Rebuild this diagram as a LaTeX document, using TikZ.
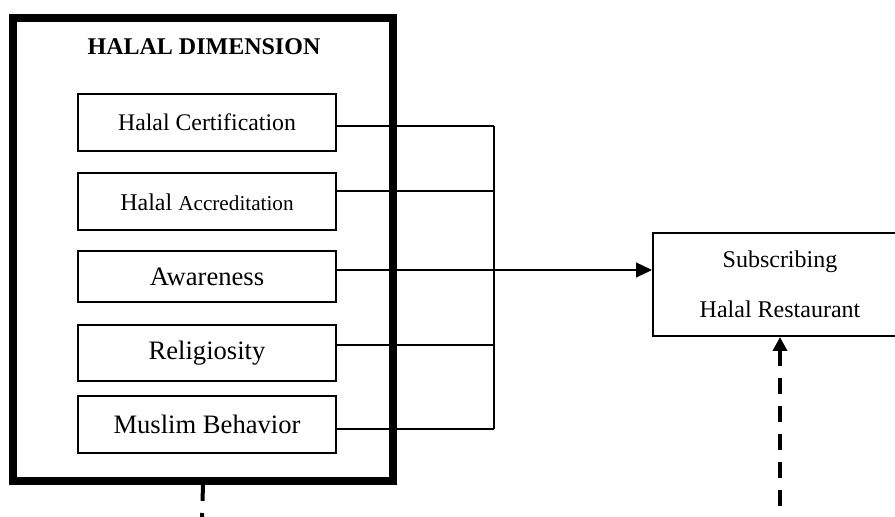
\documentclass[tikz,border=0pt]{standalone}
\usepackage{fontspec}
\setmainfont{Liberation Serif}
\usetikzlibrary{arrows.meta,positioning}

\begin{document}
\begin{tikzpicture}[x=0.5bp,y=-0.5bp,dimbox/.style={draw,line width=1bp,minimum width=129bp,minimum height=28.5bp,inner sep=0pt,font=\fontsize{13.3bp}{16bp}\selectfont},link/.style={line width=0.6bp},dashline/.style={line width=2bp,dash pattern=on 8bp off 6bp}]
                                \useasboundingbox (0,0) rectangle (895,517);
                                \clip (0,0) rectangle (895,517);
                                \node[draw,line width=4bp,minimum width=190bp,minimum height=231.5bp] (dim) at (203,249.5) {};
                                \node[font=\bfseries\fontsize{12bp}{14bp}\selectfont] (t1) at (204,47) {HALAL DIMENSION};

                                \node[dimbox,font=\fontsize{11.9bp}{14bp}\selectfont] (d1) at (207,122.5) {Halal Certification};
                                \node[dimbox,font=\fontsize{12bp}{14bp}\selectfont] (d2) at (207,202) {Halal {\fontsize{10.6bp}{14bp}\selectfont Accreditation}};
                                \node[dimbox,minimum height=25.5bp] (d3) at (207,276.5) {Awareness};
                                \node[dimbox,minimum height=28bp] (d4) at (207,353) {Religiosity};
                                \node[dimbox] (d5) at (207,424.5) {Muslim Behavior};

                                \node[draw,line width=1bp,minimum width=127bp,minimum height=51.5bp,align=center,font=\fontsize{12bp}{25bp}\selectfont] (s1) at (780,284.5) {Subscribing\\Halal Restaurant};

                                \coordinate (j1) at (494,126);
                                \coordinate (j2) at (494,191);
                                \coordinate (j3) at (494,270);
                                \coordinate (j4) at (494,345);
                                \coordinate (j5) at (494,429);
                                \coordinate (b1) at (780,517);
                                \coordinate (b2) at (202,517);

                                \draw[link] (d1.east |- j1) -- (j1);
                                \draw[link] (d2.east |- j2) -- (j2);
                                \draw[link] (d3.east |- j3) -- (j3);
                                \draw[link] (d4.east |- j4) -- (j4);
                                \draw[link] (d5.east |- j5) -- (j5);
                                \draw[link] (j1) -- (j5);
                                \draw[link,-{Triangle[length=8bp,width=7.5bp]}] (j3) -- (j3 -| s1.west);
                                \draw[dashline,{Triangle[length=7bp,width=7bp]}-] (s1.south) -- (b1);
                                \draw[dashline] (dim.south) -- (b2);
                            \end{tikzpicture}
\end{document}
